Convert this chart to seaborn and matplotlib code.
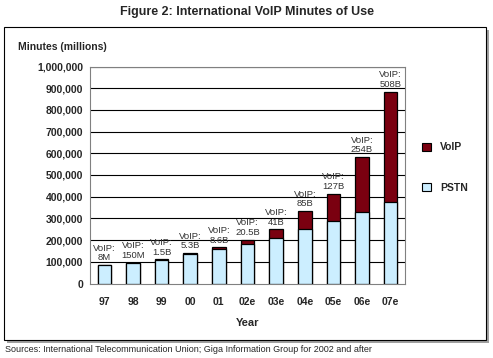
import numpy as np
import pandas as pd
import matplotlib
matplotlib.use("Agg")
import matplotlib.pyplot as plt
from matplotlib.patches import Patch, Rectangle
import seaborn as sns

# values in millions of minutes
years = ['97', '98', '99', '00', '01', '02e', '03e', '04e', '05e', '06e', '07e']
pstn = [85000, 96000, 110000, 135000, 158000, 182000, 208000, 249000, 286000, 328000, 376000]
voip = [8, 150, 1500, 5300, 8600, 20500, 41000, 85000, 127000, 254000, 508000]
voip_labels = ['8M', '150M', '1.5B', '5.3B', '8.6B', '20.5B', '41B', '85B', '127B', '254B', '508B']

df = pd.DataFrame({'Year': years, 'PSTN': pstn, 'VoIP': voip})
df['Total'] = df['PSTN'] + df['VoIP']

voip_color = '#7a0010'
pstn_color = '#cceeff'

sns.set_style('white')
plt.rcParams['font.family'] = ['Liberation Sans', 'DejaVu Sans']

fig = plt.figure(figsize=(4.93, 3.58), dpi=100)

# outer frame with shadow
fig.patches.append(Rectangle((7 / 493, 1 - 343 / 358), 482 / 493, 313 / 358,
                             transform=fig.transFigure, facecolor='#a0a0a0',
                             edgecolor='none', zorder=0))
fig.patches.append(Rectangle((4 / 493, 1 - 340 / 358), 482 / 493, 313 / 358,
                             transform=fig.transFigure, facecolor='white',
                             edgecolor='black', lw=0.8, zorder=0))

ax = fig.add_axes([90 / 493, 1 - 283.5 / 358, 315 / 493, 217 / 358])
ax.set_zorder(3)

# grid lines behind bars
for v in range(100000, 1000001, 100000):
    ax.axhline(v, color='black', lw=0.8, zorder=0)

# stacked: total in VoIP colour, PSTN drawn over it
sns.barplot(data=df, x='Year', y='Total', color=voip_color, width=0.47,
            edgecolor='black', linewidth=0.9, ax=ax, zorder=2, saturation=1)
sns.barplot(data=df, x='Year', y='PSTN', color=pstn_color, width=0.47,
            edgecolor='black', linewidth=0.9, ax=ax, zorder=3, saturation=1)

for i, (tot, lab) in enumerate(zip(df['Total'], voip_labels)):
    ax.annotate('VoIP:\n' + lab, (i, tot), xytext=(0, 2), textcoords='offset points',
                ha='center', va='bottom', fontsize=6.8, color='#333333',
                linespacing=1.1, annotation_clip=False, zorder=5)

ax.set_xlim(-0.5, 10.5)
ax.set_ylim(0, 1000000)
ax.set_yticks(range(0, 1000001, 100000))
ax.set_yticklabels([f'{v:,}' for v in range(0, 1000001, 100000)])
ax.tick_params(axis='y', length=0, pad=5, labelsize=7.5)
ax.tick_params(axis='x', length=0, pad=10, labelsize=7.5)
for t in ax.get_xticklabels() + ax.get_yticklabels():
    t.set_fontweight('bold')
ax.set_xlabel('Year', fontsize=8, fontweight='bold', labelpad=8)
ax.set_ylabel('')
for s in ax.spines.values():
    s.set_color('#808080')
    s.set_linewidth(0.8)

fig.text(0.5, 1 - 12 / 358, 'Figure 2: International VoIP Minutes of Use',
         ha='center', va='center', fontsize=9, fontweight='bold')
fig.text(18 / 493, 1 - 47 / 358, 'Minutes (millions)', ha='left', va='center',
         fontsize=7.5, fontweight='bold')
fig.text(5 / 493, 1 - 350 / 358,
         'Sources: International Telecommunication Union; Giga Information Group for 2002 and after',
         ha='left', va='center', fontsize=6.5)

handles = [Patch(facecolor=voip_color, edgecolor='black', lw=0.8, label='VoIP'),
           Patch(facecolor=pstn_color, edgecolor='black', lw=0.8, label='PSTN')]
fig.legend(handles=handles, loc='upper left', bbox_to_anchor=(413 / 493, 1 - 133 / 358),
           frameon=False, prop={'size': 7.5, 'weight': 'bold'}, handlelength=0.8,
           handleheight=0.8, labelspacing=2.9, handletextpad=0.9)

fig.savefig('out.png', dpi=100)
